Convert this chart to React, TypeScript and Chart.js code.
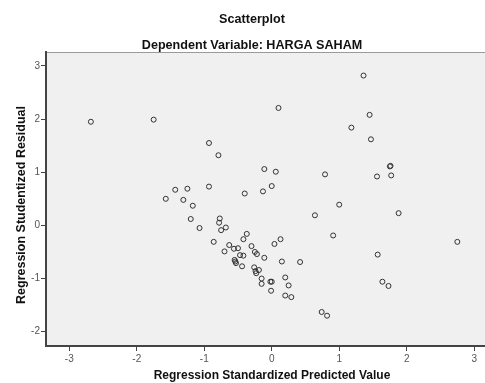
import React, { useEffect, useRef } from "react";
import { Chart, registerables } from "chart.js";

Chart.register(...registerables);

const titleText = "Scatterplot";
const subtitleText = "Dependent Variable: HARGA SAHAM";
const xAxisTitle = "Regression Standardized Predicted Value";
const yAxisTitle = "Regression Studentized Residual";

const xTicks = [-3, -2, -1, 0, 1, 2, 3];
const yTicks = [-2, -1, 0, 1, 2, 3];

const predictedValues = [
  -2.68, -1.75, -0.93, -0.79, -1.43, -1.25, -0.93, -1.57, -1.31, -1.17,
  -0.40, -1.20, -0.77, 1.36, 0.10, 1.45, 1.18, 1.47, 1.75, 1.76,
  -0.11, 0.06, 0.79, 1.56, 1.77, 0.0, -0.13, 1.0, 0.64, 1.88,
  0.91, 2.75, 1.57, 1.64, 1.73, 0.74, 0.82, -0.37, -0.42, 0.04,
  0.13, -0.30, -0.25, -0.22, -0.11, -0.47, -0.42, -0.44, 0.15, 0.42,
  -0.26, -0.24, -0.19, -0.23, -0.15, -0.15, -0.02, 0.0, -0.01, 0.20,
  0.25, 0.20, 0.29, -1.07, -0.78, -0.75, -0.68, -0.86, -0.70, -0.63,
  -0.56, -0.50, -0.55, -0.54, -0.53,
];

const studentizedResiduals = [
  1.95, 1.99, 1.55, 1.32, 0.67, 0.69, 0.73, 0.50, 0.48, 0.37,
  0.60, 0.12, 0.13, 2.82, 2.21, 2.08, 1.84, 1.62, 1.11, 1.12,
  1.06, 1.01, 0.96, 0.92, 0.94, 0.74, 0.64, 0.39, 0.19, 0.23,
  -0.19, -0.31, -0.55, -1.06, -1.14, -1.63, -1.70, -0.16, -0.26, -0.35,
  -0.26, -0.39, -0.50, -0.54, -0.61, -0.56, -0.57, -0.77, -0.68, -0.69,
  -0.79, -0.86, -0.84, -0.90, -1.00, -1.10, -1.06, -1.06, -1.23, -0.98,
  -1.13, -1.32, -1.35, -0.05, 0.05, -0.09, -0.04, -0.31, -0.49, -0.37,
  -0.44, -0.43, -0.65, -0.68, -0.71,
];

const FONT = "'Liberation Sans', Arial, sans-serif";

const framePlugin = {
  id: "spssFrame",
  beforeDraw(chart: any) {
    const { ctx, chartArea } = chart;
    ctx.save();
    ctx.fillStyle = "#ffffff";
    ctx.fillRect(0, 0, chart.width, chart.height);
    ctx.fillStyle = "#f0f0f0";
    ctx.fillRect(chartArea.left, chartArea.top, chartArea.right - chartArea.left, chartArea.bottom - chartArea.top);
    ctx.strokeStyle = "#9a9a9a";
    ctx.lineWidth = 1;
    ctx.beginPath();
    ctx.moveTo(chartArea.left, chartArea.top + 0.5);
    ctx.lineTo(chartArea.right, chartArea.top + 0.5);
    ctx.stroke();
    ctx.restore();
  },
  afterDraw(chart: any) {
    const { ctx } = chart;
    ctx.save();
    ctx.fillStyle = "#111111";
    ctx.textAlign = "center";
    ctx.textBaseline = "alphabetic";
    ctx.font = `bold 12.6px ${FONT}`;
    ctx.fillText(titleText, 252, 23);
    ctx.fillText(subtitleText, 252, 48.5);
    ctx.font = `bold 12px ${FONT}`;
    ctx.fillText(xAxisTitle, 272, 379);
    ctx.translate(24.5, 205);
    ctx.rotate(-Math.PI / 2);
    ctx.font = `bold 12.5px ${FONT}`;
    ctx.fillText(yAxisTitle, 0, 0);
    ctx.restore();
  },
};

export default function App() {
  const canvasRef = useRef<HTMLCanvasElement | null>(null);

  useEffect(() => {
    if (!canvasRef.current) return;
    const points = predictedValues.map((x, i) => ({ x, y: studentizedResiduals[i] }));
    const chart = new Chart(canvasRef.current, {
      type: "scatter",
      data: {
        datasets: [
          {
            data: points,
            pointRadius: 2.5,
            pointHoverRadius: 2.5,
            pointBorderWidth: 1,
            borderColor: "#333333",
            backgroundColor: "rgba(0,0,0,0)",
          },
        ],
      },
      options: {
        animation: false,
        responsive: true,
        maintainAspectRatio: false,
        layout: { padding: { left: 0, right: 0, top: 52, bottom: 0 }, autoPadding: false },
        plugins: {
          legend: { display: false },
          tooltip: { enabled: false },
          title: { display: false },
        },
        scales: {
          x: {
            type: "linear",
            min: -3.345,
            max: 3.16,
            afterBuildTicks: (scale: any) => {
              scale.ticks = xTicks.map((v) => ({ value: v }));
            },
            afterFit: (scale: any) => {
              scale.height = 37;
            },
            grid: {
              drawOnChartArea: false,
              drawTicks: true,
              tickLength: 5,
              color: "#444444",
            },
            border: { display: true, color: "#444444", width: 2 },
            ticks: {
              padding: 2,
              color: "#555555",
              font: { family: FONT, size: 10 },
              maxRotation: 0,
              autoSkip: false,
            },
          },
          y: {
            type: "linear",
            min: -2.27,
            max: 3.263,
            afterBuildTicks: (scale: any) => {
              scale.ticks = yTicks.map((v) => ({ value: v }));
            },
            afterFit: (scale: any) => {
              scale.width = 46;
            },
            grid: {
              drawOnChartArea: false,
              drawTicks: true,
              tickLength: 5,
              color: "#444444",
            },
            border: { display: true, color: "#444444", width: 2 },
            ticks: {
              padding: 1,
              color: "#555555",
              font: { family: FONT, size: 10 },
              autoSkip: false,
            },
          },
        },
      },
      plugins: [framePlugin],
    });
    return () => chart.destroy();
  }, []);

  return (
    <div style={{ position: "fixed", left: 0, top: 0, width: 485, height: 383, background: "#fff" }}>
      <canvas ref={canvasRef} />
    </div>
  );
}
